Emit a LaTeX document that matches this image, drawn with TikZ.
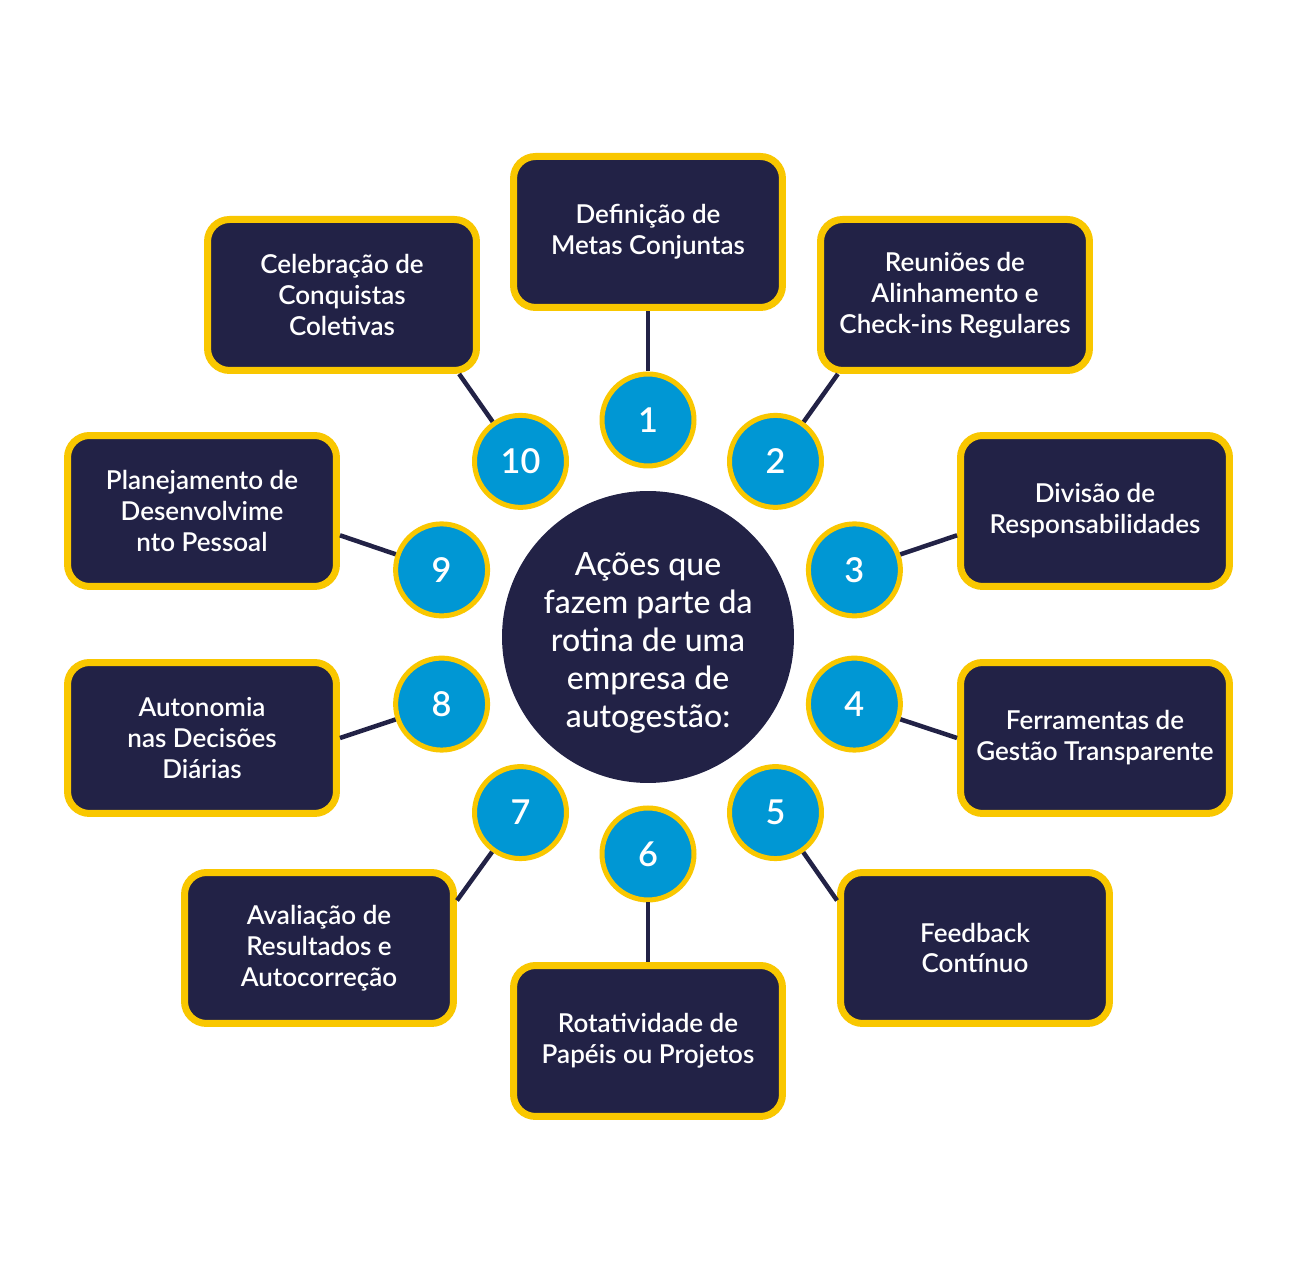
\documentclass[tikz,border=0pt]{standalone}
\usepackage{fontspec}
\setmainfont{Lato}
\newfontfamily\hubfont{Lato Medium}
\newfontfamily\topicfont{Lato Semibold}
\usepackage{tikz}
\usetikzlibrary{positioning}
\usepackage{xcolor}
\definecolor{myNavy}{HTML}{222246}
\definecolor{myYellow}{HTML}{F9C700}
\definecolor{myBlue}{HTML}{0097D4}

\begin{document}
\begin{tikzpicture}[x=0.02cm,y=0.02cm,
    topic/.style={draw=myYellow, line width=0.14cm, fill=myNavy, rounded corners=0.44cm,
      minimum width=5.38cm, minimum height=3.02cm, inner sep=0pt, align=center,
      text=white, font=\topicfont\fontsize{14.8pt}{17.6pt}\selectfont},
    num/.style={circle, draw=myYellow, line width=0.1cm, fill=myBlue, minimum size=1.84cm,
      inner sep=0pt, text=white, font=\topicfont\fontsize{19.5pt}{20pt}\selectfont},
    hubnode/.style={circle, fill=myNavy, minimum size=5.84cm, inner sep=0pt, align=center,
      text=white, font=\hubfont\fontsize{18.2pt}{21.6pt}\selectfont},
    link/.style={draw=myNavy, line width=0.09cm}]
        \fill[white] (0,0) rectangle (1295,1274);
        \useasboundingbox (0,0) rectangle (1295,1274);
        %\draw[help lines] (0,0) grid[step=100] (1295,1274);
        \node[hubnode] (hub) at (648,637) {\rule{0pt}{20pt}Ações que\\fazem parte da\\rotina de uma\\empresa de\\autogestão:};
        \node[topic] (b1) at (648,1042) {Definição de\\Metas Conjuntas};
        \node[topic] (b2) at (955,979) {Reuniões de\\Alinhamento e\\Check-ins Regulares};
        \node[topic] (b3) at (1095,763) {Divisão de\\Responsabilidades};
        \node[topic] (b4) at (1095,536) {Ferramentas de\\Gestão Transparente};
        \node[topic] (b5) at (975,326) {Feedback\\Contínuo};
        \node[topic] (b6) at (648,233) {Rotatividade de\\Papéis ou Projetos};
        \node[topic] (b7) at (319,326) {Avaliação de\\Resultados e\\Autocorreção};
        \node[topic] (b8) at (202,536) {Autonomia\\nas Decisões\\Diárias};
        \node[topic] (b9) at (202,763) {Planejamento de\\Desenvolvime\\nto Pessoal};
        \node[topic] (b10) at (342,979) {Celebração de\\Conquistas\\Coletivas};
        % numbers on a ring round the hub
        \node[num] (c1) at (648,854) {1};
        \node[num] (c2) at (775.5,812.6) {2};
        \node[num] (c3) at (854.4,704.1) {3};
        \node[num] (c4) at (854.4,569.9) {4};
        \node[num] (c5) at (775.5,461.4) {5};
        \node[num] (c6) at (648,420) {6};
        \node[num] (c7) at (520.5,461.4) {7};
        \node[num] (c8) at (441.6,569.9) {8};
        \node[num] (c9) at (441.6,704.1) {9};
        \node[num] (c10) at (520.5,812.6) {10};
        \draw[link] (c1) -- (b1.south);
        \draw[link] (c2) -- (b2.214);
        \draw[link] (c3) -- (b3.190);
        \draw[link] (c4) -- (b4.west);
        \draw[link] (c5) -- (b5.161);
        \draw[link] (c6) -- (b6.north);
        \draw[link] (c7) -- (b7.19);
        \draw[link] (c8) -- (b8.east);
        \draw[link] (c9) -- (b9.350);
        \draw[link] (c10) -- (b10.326);
      \end{tikzpicture}
\end{document}
